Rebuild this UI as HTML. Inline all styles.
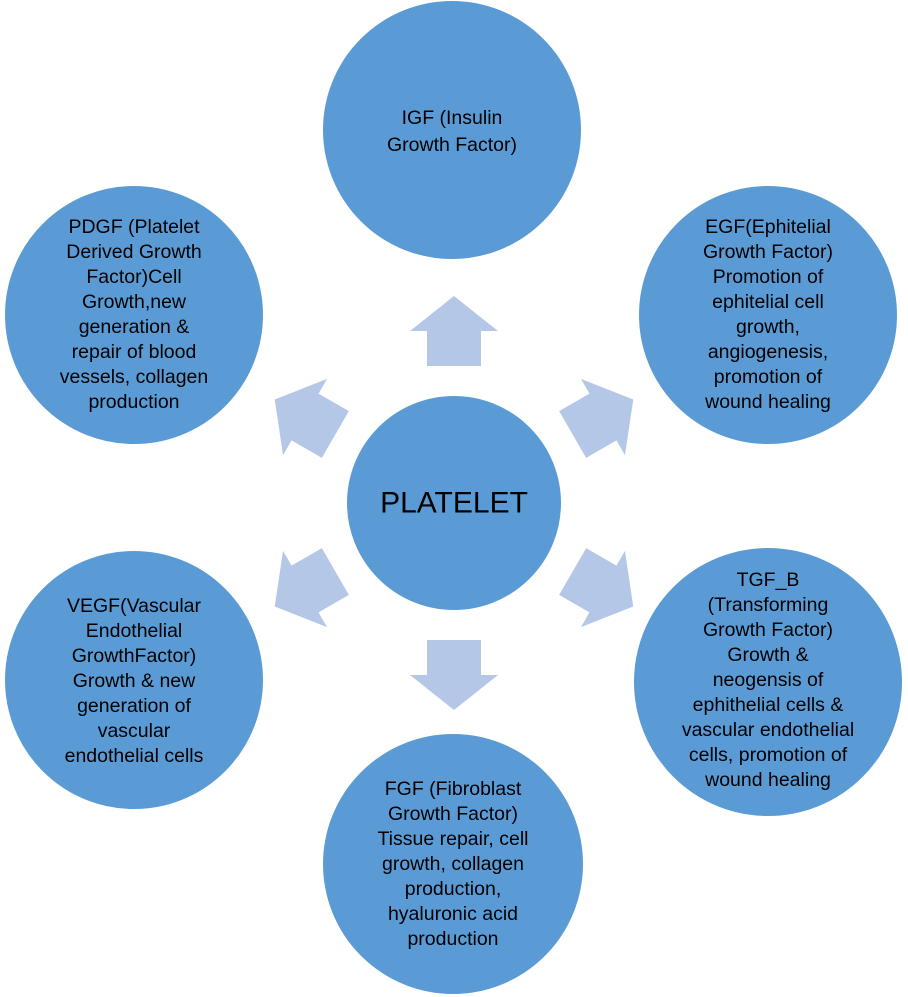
<!DOCTYPE html>
<html><head><meta charset="utf-8"><style>
html,body{margin:0;padding:0;background:#fff;}
svg{display:block;}
text{font-family:"Liberation Sans",sans-serif;font-size:19.5px;fill:#000;text-anchor:middle;dominant-baseline:central;}
</style></head><body>
<svg width="908" height="997" viewBox="0 0 908 997" xmlns="http://www.w3.org/2000/svg">
<defs>
<polygon id="arr" points="0,-207 44,-172 27,-172 27,-137 -27,-137 -27,-172 -44,-172" fill="#B4C7E7"/>
</defs>
<g transform="translate(454,503)">
<use href="#arr"/>
<use href="#arr" transform="rotate(60)"/>
<use href="#arr" transform="rotate(120)"/>
<use href="#arr" transform="rotate(180)"/>
<use href="#arr" transform="rotate(240)"/>
<use href="#arr" transform="rotate(300)"/>
</g>
<g fill="#5B9BD5" stroke="#fff" stroke-width="2">
<circle cx="452" cy="130" r="130"/>
<circle cx="134" cy="315" r="130"/>
<circle cx="768" cy="315" r="130"/>
<circle cx="134" cy="680" r="130"/>
<circle cx="768" cy="682" r="135"/>
<circle cx="453" cy="864" r="131"/>
<circle cx="454" cy="503" r="108"/>
</g>
<text x="454" y="503" style="font-size:30px">PLATELET</text>
<g>
<text x="452" y="118">IGF (Insulin</text>
<text x="452" y="145">Growth Factor)</text>
</g>
<g>
<text x="134" y="227">PDGF (Platelet</text>
<text x="134" y="252">Derived Growth</text>
<text x="134" y="277">Factor)Cell</text>
<text x="134" y="302">Growth,new</text>
<text x="134" y="327">generation &amp;</text>
<text x="134" y="352">repair of blood</text>
<text x="134" y="377">vessels, collagen</text>
<text x="134" y="402">production</text>
</g>
<g>
<text x="768" y="227">EGF(Ephitelial</text>
<text x="768" y="252">Growth Factor)</text>
<text x="768" y="277">Promotion of</text>
<text x="768" y="302">ephitelial cell</text>
<text x="768" y="327">growth,</text>
<text x="768" y="352">angiogenesis,</text>
<text x="768" y="377">promotion of</text>
<text x="768" y="402">wound healing</text>
</g>
<g>
<text x="134" y="606">VEGF(Vascular</text>
<text x="134" y="631">Endothelial</text>
<text x="134" y="656">GrowthFactor)</text>
<text x="134" y="681">Growth &amp; new</text>
<text x="134" y="706">generation of</text>
<text x="134" y="731">vascular</text>
<text x="134" y="756">endothelial cells</text>
</g>
<g>
<text x="768" y="580">TGF_B</text>
<text x="768" y="605">(Transforming</text>
<text x="768" y="630">Growth Factor)</text>
<text x="768" y="655">Growth &amp;</text>
<text x="768" y="680">neogensis of</text>
<text x="768" y="705">ephithelial cells &amp;</text>
<text x="768" y="730">vascular endothelial</text>
<text x="768" y="755">cells, promotion of</text>
<text x="768" y="780">wound healing</text>
</g>
<g>
<text x="453" y="789">FGF (Fibroblast</text>
<text x="453" y="814">Growth Factor)</text>
<text x="453" y="839">Tissue repair, cell</text>
<text x="453" y="864">growth, collagen</text>
<text x="453" y="889">production,</text>
<text x="453" y="914">hyaluronic acid</text>
<text x="453" y="939">production</text>
</g>
</svg>
</body></html>
